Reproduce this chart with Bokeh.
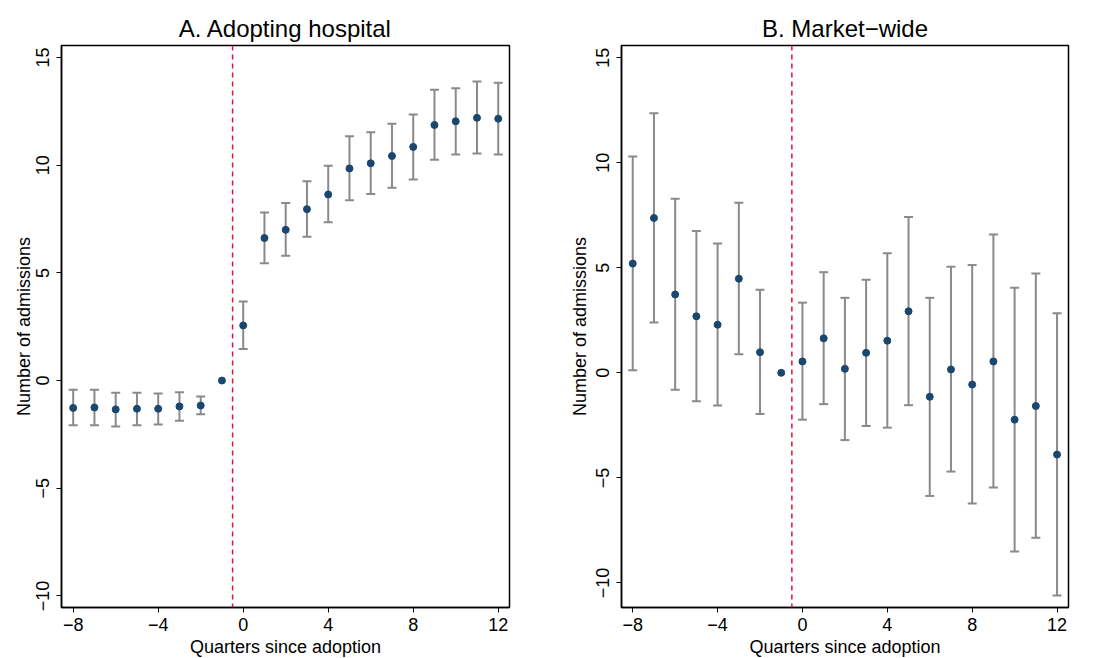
from bokeh.plotting import figure
from bokeh.layouts import row
from bokeh.models import ColumnDataSource, Whisker, TeeHead, Span, FixedTicker, Range1d
from bokeh.embed import file_html
from bokeh.resources import INLINE

quarters = list(range(-8, 13))

a_est = [-1.27, -1.25, -1.34, -1.31, -1.31, -1.20, -1.16, 0.0, 2.56, 6.62, 7.00, 7.96,
         8.64, 9.85, 10.09, 10.43, 10.85, 11.87, 12.04, 12.20, 12.16]
a_lo = [-2.08, -2.08, -2.13, -2.08, -2.04, -1.87, -1.57, 0.0, 1.47, 5.45, 5.80, 6.68,
        7.35, 8.37, 8.66, 8.95, 9.34, 10.25, 10.50, 10.54, 10.50]
a_hi = [-0.43, -0.43, -0.57, -0.57, -0.60, -0.54, -0.74, 0.0, 3.67, 7.81, 8.25, 9.26,
        9.98, 11.34, 11.53, 11.93, 12.35, 13.50, 13.58, 13.89, 13.83]

b_est = [5.20, 7.37, 3.73, 2.69, 2.29, 4.48, 0.98, 0.0, 0.54, 1.64, 0.19, 0.95,
         1.53, 2.93, -1.14, 0.16, -0.56, 0.54, -2.23, -1.58, -3.89]
b_lo = [0.12, 2.40, -0.81, -1.35, -1.55, 0.88, -1.96, 0.0, -2.23, -1.49, -3.20, -2.53,
        -2.61, -1.54, -5.86, -4.70, -6.22, -5.46, -8.51, -7.85, -10.60]
b_hi = [10.30, 12.35, 8.29, 6.75, 6.15, 8.10, 3.95, 0.0, 3.34, 4.79, 3.57, 4.43,
        5.69, 7.42, 3.57, 5.05, 5.13, 6.58, 4.05, 4.73, 2.83]

titles = ["A. Adopting hospital", "B. Market\u2212wide"]
x_label = "Quarters since adoption"
y_label = "Number of admissions"
x_ticks = [-8, -4, 0, 4, 8, 12]
y_ticks = [-10, -5, 0, 5, 10, 15]
event_line = -0.5

FONT = "Liberation Sans"
PT_COLOR = "#1a476f"
BAR_COLOR = "#8a8a8a"
RED = "#dc143c"


def minus(v):
    return str(v).replace("-", "\u2212")


def panel(title, est, lo, hi, xr, yr, bl, fw, br, ylab_standoff):
    p = figure(output_backend="svg", toolbar_location=None,
               frame_width=fw, frame_height=562,
               min_border_left=bl, min_border_right=br,
               min_border_top=45, min_border_bottom=10,
               x_range=Range1d(*xr), y_range=Range1d(*yr), title=title)
    p.title.align = "center"
    p.title.text_font = FONT
    p.title.text_font_size = "24px"
    p.title.text_font_style = "normal"
    p.title.text_color = "black"
    p.title.offset = 0
    p.title.standoff = 8
    p.xgrid.visible = False
    p.ygrid.visible = False
    p.outline_line_color = "black"
    p.outline_line_width = 1.5
    p.outline_line_alpha = 1
    p.background_fill_color = "white"
    p.border_fill_color = "white"

    wx = [q for q, l, h in zip(quarters, lo, hi) if l != h]
    wl = [l for l, h in zip(lo, hi) if l != h]
    wh = [h for l, h in zip(lo, hi) if l != h]
    wsrc = ColumnDataSource(dict(x=wx, lower=wl, upper=wh))
    w = Whisker(source=wsrc, base="x", lower="lower", upper="upper",
                line_color=BAR_COLOR, line_width=2,
                upper_head=TeeHead(size=9, line_color=BAR_COLOR, line_width=2),
                lower_head=TeeHead(size=9, line_color=BAR_COLOR, line_width=2))
    p.add_layout(w)

    p.add_layout(Span(location=event_line, dimension="height", line_color=RED,
                      line_dash="5 4", line_width=1.5))

    src = ColumnDataSource(dict(x=quarters, y=est))
    p.scatter("x", "y", source=src, size=7, fill_color=PT_COLOR, line_color=PT_COLOR)

    p.xaxis.ticker = FixedTicker(ticks=x_ticks)
    p.yaxis.ticker = FixedTicker(ticks=y_ticks)
    p.xaxis.major_label_overrides = {t: minus(t) for t in x_ticks}
    p.yaxis.major_label_overrides = {t: minus(t) for t in y_ticks}
    p.yaxis.major_label_orientation = "vertical"
    for ax in (p.xaxis[0], p.yaxis[0]):
        ax.axis_line_color = "black"
        ax.axis_line_width = 1.5
        ax.major_tick_line_color = "black"
        ax.major_tick_line_width = 1
        ax.major_tick_out = 5
        ax.major_tick_in = 0
        ax.minor_tick_line_color = None
        ax.major_label_text_font = FONT
        ax.major_label_text_font_size = "18px"
        ax.major_label_text_color = "black"
        ax.axis_label_text_font = FONT
        ax.axis_label_text_font_size = "18px"
        ax.axis_label_text_font_style = "normal"
        ax.axis_label_text_color = "black"
    p.xaxis.axis_label = x_label
    p.yaxis.axis_label = y_label
    p.xaxis.major_label_standoff = 5
    p.xaxis.axis_label_standoff = 3
    p.yaxis.major_label_standoff = 7
    p.yaxis.axis_label_standoff = ylab_standoff
    return p


p1 = panel(titles[0], a_est, a_lo, a_hi, (-8.55, 12.53), (-10.54, 15.56), 61, 448, 37, 0)
p2 = panel(titles[1], b_est, b_lo, b_hi, (-8.53, 12.54), (-11.17, 15.58), 75, 447, 17, 4)

layout = row(p1, p2)
open("out.html", "w").write(file_html(layout, INLINE))
